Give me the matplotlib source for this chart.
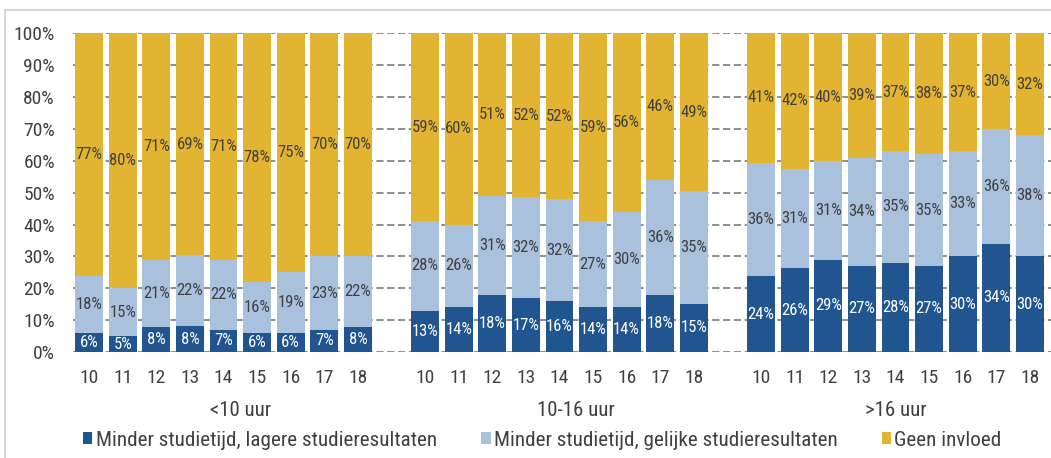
import matplotlib
matplotlib.use("Agg")
import matplotlib.pyplot as plt
from matplotlib import font_manager
from matplotlib.patches import Rectangle
import numpy as np

# pick a narrow sans font if present
available = {f.name for f in font_manager.fontManager.ttflist}
family = None
for cand in ["Roboto Condensed", "Liberation Sans Narrow", "DejaVu Sans Condensed", "DejaVu Sans"]:
    if cand in available:
        family = cand
        break
plt.rcParams["font.family"] = [family, "DejaVu Sans"]

years = ["10", "11", "12", "13", "14", "15", "16", "17", "18"]
groups = ["<10 uur", "10-16 uur", ">16 uur"]
series_names = ["Minder studietijd, lagere studieresultaten",
                "Minder studietijd, gelijke studieresultaten",
                "Geen invloed"]

lagere = [6, 5, 8, 8, 7, 6, 6, 7, 8,
          13, 14, 18, 17, 16, 14, 14, 18, 15,
          24, 26, 29, 27, 28, 27, 30, 34, 30]
gelijke = [18, 15, 21, 22, 22, 16, 19, 23, 22,
           28, 26, 31, 32, 32, 27, 30, 36, 35,
           36, 31, 31, 34, 35, 35, 33, 36, 38]
geen = [77, 80, 71, 69, 71, 78, 75, 70, 70,
        59, 60, 51, 52, 52, 59, 56, 46, 49,
        41, 42, 40, 39, 37, 38, 37, 30, 32]

colors = ["#215590", "#A9C1DD", "#E3B431"]
text_colors = ["white", "#404040", "#404040"]

fig = plt.figure(figsize=(10.51, 4.58), dpi=100)
ax = fig.add_axes([73 / 1051, 1 - 352 / 458, 1 - 73 / 1051, (352 - 33.3) / 458])

pos = []
for g in range(len(groups)):
    pos += [g * 10 + i for i in range(len(years))]
pos = np.array(pos)

# 100% stacked: each segment is its share of the bar total
data = np.array([lagere, gelijke, geen], dtype=float)
totals = data.sum(axis=0)
shares = data / totals * 100

bottom = np.zeros(len(pos))
for vals, share, col, tcol, name in zip(data, shares, colors, text_colors, series_names):
    ax.bar(pos, share, width=0.83, bottom=bottom, color=col, label=name, zorder=3)
    for x, b, s, v in zip(pos, bottom, share, vals):
        ax.text(x, b + s / 2, f"{int(v)}%", ha="center", va="center",
                color=tcol, fontsize=12, zorder=4)
    bottom += share

ax.set_ylim(0, 100)
ax.set_xlim(-0.48, 28.63)
ax.set_yticks(np.arange(0, 101, 10))
ax.set_yticklabels([f"{v}%" for v in range(0, 101, 10)], fontsize=14, color="#404040")
ax.yaxis.grid(True, linestyle=(0, (4, 2)), color="#858585", linewidth=1.3, zorder=0)
ax.set_axisbelow(True)
ax.tick_params(axis="y", length=0, pad=13)
ax.set_xticks(pos)
ax.set_xticklabels(years * len(groups), fontsize=14, color="#404040")
ax.tick_params(axis="x", length=0, pad=12)
for s in ax.spines.values():
    s.set_visible(False)

# group labels under the year ticks
for g, name in enumerate(groups):
    cx = g * 10 + 4.5 if g < len(groups) - 1 else g * 10 + 4
    ax.text(cx, -0.183, name, transform=ax.get_xaxis_transform(), ha="center",
            va="center", fontsize=15, color="#404040")

leg = fig.legend(loc="center", bbox_to_anchor=(0.516, 1 - 440 / 458), ncol=3,
                 frameon=False, fontsize=15.2, handlelength=0.45, handleheight=0.45,
                 handletextpad=0.15, columnspacing=2.1, labelcolor="#404040")

fig.patches.append(Rectangle((5 / 1051, -0.1), 1.2, 1 - 10 / 458 + 0.1,
                             transform=fig.transFigure, fill=False,
                             edgecolor="#d0d0d0", linewidth=1.2))

fig.savefig("out.png", dpi=100, facecolor="white")
